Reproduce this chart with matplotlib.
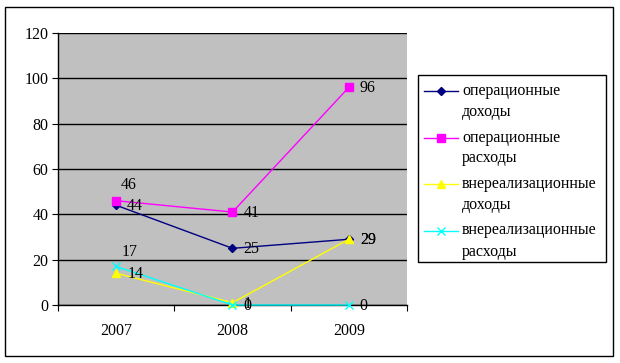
import matplotlib
matplotlib.use("Agg")
import matplotlib.pyplot as plt
from matplotlib.lines import Line2D
from matplotlib.patches import Rectangle

plt.rcParams['font.family'] = ['Liberation Serif', 'DejaVu Serif']

# данные
years = ['2007', '2008', '2009']
op_income = [44, 25, 29]
op_expense = [46, 41, 96]
nonop_income = [14, 1, 29]
nonop_expense = [17, 0, 0]

names = ['операционные\nдоходы', 'операционные\nрасходы',
         'внереализационные\nдоходы', 'внереализационные\nрасходы']
series = [op_income, op_expense, nonop_income, nonop_expense]
colors = ['#000080', '#FF00FF', '#FFFF00', '#00FFFF']
markers = ['D', 's', '^', 'x']
msizes = [4.5, 5.5, 5.5, 6]
FS = 11.5

W, H = 620, 363
fig = plt.figure(figsize=(6.2, 3.63), dpi=100)
fig.patch.set_facecolor('white')

# рамка диаграммы
fig.add_artist(Rectangle((5 / W, 1 - 356 / H), 608 / W, 349 / H,
                         transform=fig.transFigure, fill=False,
                         edgecolor='black', linewidth=1))

ax = fig.add_axes([58 / W, 1 - 305 / H, 349 / W, 272 / H])
ax.set_facecolor('#C0C0C0')
x = list(range(1, len(years) + 1))

for vals, c, m, ms in zip(series, colors, markers, msizes):
    ax.plot(x, vals, color=c, marker=m, markersize=ms, linewidth=1,
            markeredgewidth=1, zorder=3, clip_on=False)

# подписи данных (смещение в пикселях), ключ: (серия, год)
px = 0.72
offsets = {(1, 0): (5, 16), (3, 0): (5, 14)}
for si, vals in enumerate(series):
    for xi, v in enumerate(vals):
        dx, dy = offsets.get((si, xi), (11, -1))
        ax.annotate(str(v), (x[xi], v), xytext=(dx * px, dy * px),
                    textcoords='offset points', ha='left', va='center',
                    fontsize=FS, zorder=4)

ax.set_xlim(0.5, 3.5)
ax.set_ylim(0, 120)
ax.set_yticks(range(0, 121, 20))
ax.yaxis.grid(True, color='black', linewidth=1)
ax.set_axisbelow(True)
ax.set_xticks([0.5, 1.5, 2.5, 3.5])
ax.set_xticklabels([])
ax.set_xticks(x, minor=True)
ax.set_xticklabels(years, minor=True)
ax.tick_params(axis='x', which='major', length=4, direction='out', color='black')
ax.tick_params(axis='x', which='minor', length=0, pad=13, labelsize=FS)
ax.tick_params(axis='y', length=4, direction='out', pad=3, labelsize=FS)
for s in ['top', 'right']:
    ax.spines[s].set_visible(False)
for s in ['left', 'bottom']:
    ax.spines[s].set_color('black')
    ax.spines[s].set_linewidth(1)

# легенда
fig.add_artist(Rectangle((418 / W, 1 - 262 / H), 188 / W, 187 / H,
                         transform=fig.transFigure, fill=False,
                         edgecolor='black', linewidth=1))
for i, (name, c, m, ms) in enumerate(zip(names, colors, markers, msizes)):
    yy = 1 - (91 + 46.5 * i) / H
    fig.add_artist(Line2D([424 / W, 458 / W], [yy, yy], color=c, linewidth=1,
                          transform=fig.transFigure))
    fig.add_artist(Line2D([441 / W], [yy], color=c, marker=m, markersize=ms,
                          transform=fig.transFigure))
    first, second = name.split('\n')
    fig.text(462 / W, yy, first, ha='left', va='center', fontsize=FS)
    fig.text(462 / W, yy - 21 / H, second, ha='left', va='center', fontsize=FS)

fig.savefig('out.png', dpi=100)
